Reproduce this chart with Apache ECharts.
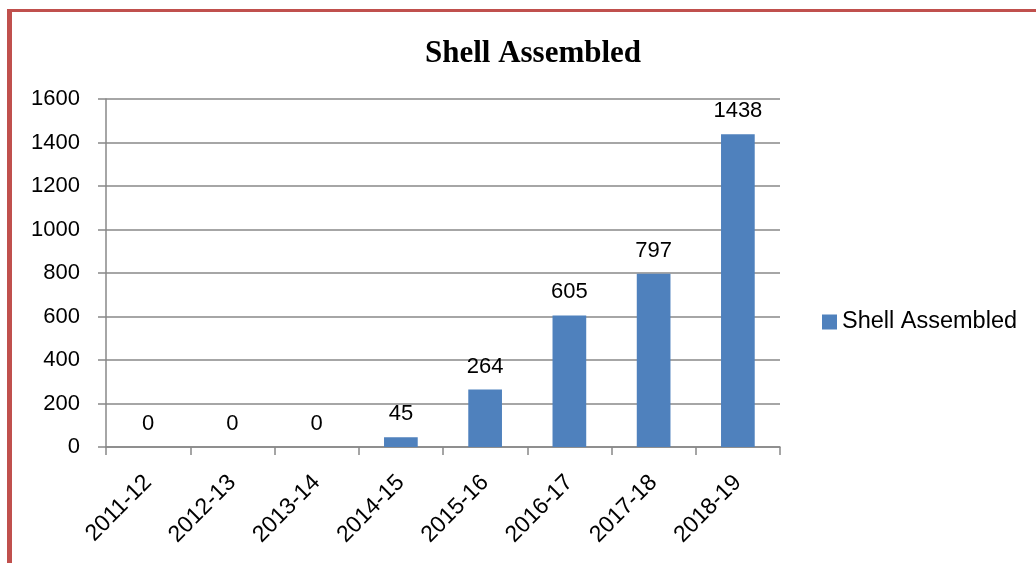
<!DOCTYPE html>
<html>
<head>
<meta charset="utf-8">
<script src="https://cdn.jsdelivr.net/npm/echarts@6/dist/echarts.min.js"></script>
<style>
  body { margin: 0; background: #fff; }
  #container { width: 1036px; height: 563px; }
  #frame {
    position: absolute; left: 7px; top: 9px; width: 1029px; height: 554px;
    border-top: 3px solid #C0504D; border-left: 5px solid #C0504D;
    box-sizing: border-box; pointer-events: none;
  }
</style>
</head>
<body>
<div id="frame"></div>
<div id="container"></div>
<script>
var years = ['2011-12', '2012-13', '2013-14', '2014-15', '2015-16', '2016-17', '2017-18', '2018-19'];
var shellAssembled = [0, 0, 0, 45, 264, 605, 797, 1438];

var dom = document.getElementById('container');
var myChart = echarts.init(dom);

var font = 'Liberation Sans';

var option = {
    animation: false,
    title: {
        text: 'Shell Assembled',
        left: 528,
        textAlign: 'center',
        top: 33,
        textStyle: {
            fontFamily: 'Liberation Serif',
            fontWeight: 'bold',
            fontSize: 31,
            color: '#000'
        }
    },
    legend: {
        orient: 'vertical',
        left: 817,
        top: 305,
        itemWidth: 15,
        itemHeight: 15,
        itemGap: 6,
        icon: 'rect',
        textStyle: { fontFamily: font, fontSize: 23.5, color: '#000' },
        data: ['Shell Assembled']
    },
    grid: {
        left: 106,
        right: 256,
        top: 99,
        bottom: 116
    },
    xAxis: {
        type: 'category',
        data: years,
        axisLine: { lineStyle: { color: '#888', width: 1.5 } },
        axisTick: { show: true, length: 8, lineStyle: { color: '#888', width: 1.5 } },
        axisLabel: {
            rotate: 45,
            margin: 32,
            fontFamily: font,
            fontSize: 23,
            color: '#000'
        }
    },
    yAxis: {
        type: 'value',
        min: 0,
        max: 1600,
        interval: 200,
        axisLine: { show: true, lineStyle: { color: '#888', width: 1.5 } },
        axisTick: { show: true, length: 8, lineStyle: { color: '#888', width: 1.5 } },
        splitLine: { lineStyle: { color: '#888', width: 1.5 } },
        axisLabel: {
            margin: 26,
            fontFamily: font,
            fontSize: 22,
            color: '#000',
            formatter: function (v) { return String(v); }
        }
    },
    series: [{
        name: 'Shell Assembled',
        type: 'bar',
        data: shellAssembled,
        barCategoryGap: '60%',
        itemStyle: { color: '#4F81BD' },
        label: {
            show: true,
            position: 'top',
            distance: 12,
            fontFamily: font,
            fontSize: 22,
            color: '#000'
        }
    }]
};

myChart.setOption(option);
</script>
</body>
</html>
